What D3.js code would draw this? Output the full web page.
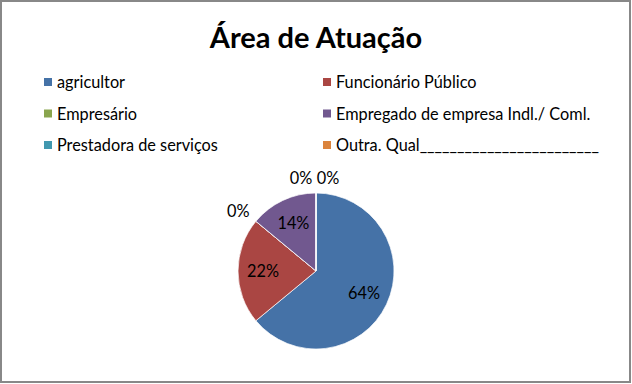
<!DOCTYPE html>
<html>
<head>
<meta charset="utf-8">
<script src="https://cdn.jsdelivr.net/npm/d3@7"></script>
<style>
  body { margin: 0; background: #fff; }
  svg { display: block; }
</style>
</head>
<body>
<script>
var categories = ['agricultor', 'Funcionário Público', 'Empresário', 'Empregado de empresa Indl./ Coml.', 'Prestadora de serviços', 'Outra. Qual________________________'];
var values = [64, 22, 0, 14, 0, 0];
var colors = ['#4572A7', '#AA4643', '#89A54E', '#71588F', '#4198AF', '#DB843D'];
var title = 'Área de Atuação';

var width = 632, height = 384;
var font = 'Lato, "Open Sans", sans-serif';

var svg = d3.select('body').append('svg').attr('width', width).attr('height', height);

svg.append('rect').attr('x', 1).attr('y', 1).attr('width', width - 3).attr('height', height - 3)
  .attr('fill', '#fff').attr('stroke', '#888').attr('stroke-width', 2);

svg.append('text').attr('x', 316).attr('y', 48).attr('text-anchor', 'middle')
  .attr('font-family', font).attr('font-weight', 'bold').attr('font-size', 29)
  .attr('fill', '#000').text(title);

// legend, 2 columns x 3 rows
var leg = svg.append('g').selectAll('g.item').data(categories).enter().append('g')
  .attr('class', 'item')
  .attr('transform', function(d, i) {
    return 'translate(' + (i % 2 === 0 ? 44 : 323) + ',' + (82 + Math.floor(i / 2) * 31.5) + ')';
  });
leg.append('rect').attr('x', 0).attr('y', -4).attr('width', 8).attr('height', 8)
  .attr('fill', function(d, i) { return colors[i]; });
leg.append('text').attr('x', 13).attr('y', 6)
  .attr('font-family', font).attr('font-size', 16.3).attr('fill', '#000')
  .text(function(d) { return d; });

// pie
var r = 78;
var total = d3.sum(values);
var pie = d3.pie().sort(null).value(function(d) { return d; });
var arcs = pie(values);
var arc = d3.arc().innerRadius(0).outerRadius(r);
var labelArc = d3.arc().innerRadius(r * 0.68).outerRadius(r * 0.68);

var g = svg.append('g').attr('transform', 'translate(316,271)');
g.selectAll('path').data(arcs).enter().append('path')
  .attr('d', arc)
  .attr('fill', function(d, i) { return colors[i]; })
  .attr('stroke', '#fff').attr('stroke-width', 0.7);

// zero slices go outside, nudged sideways where they stack
var zeroShift = [0, 0, -6, 0, -15, 12];
g.selectAll('text.lbl').data(arcs).enter().append('text')
  .attr('class', 'lbl')
  .attr('transform', function(d, i) {
    var p;
    if (d.value === 0) {
      var a = d.startAngle;
      var rr = r + 15;
      p = [Math.sin(a) * rr + zeroShift[i], -Math.cos(a) * rr];
    } else {
      p = labelArc.centroid(d);
    }
    return 'translate(' + p[0] + ',' + p[1] + ')';
  })
  .attr('dy', '0.35em')
  .attr('text-anchor', 'middle')
  .attr('font-family', font).attr('font-size', 16.3).attr('fill', '#000')
  .text(function(d) { return Math.round(d.value / total * 100) + '%'; });
</script>
</body>
</html>
